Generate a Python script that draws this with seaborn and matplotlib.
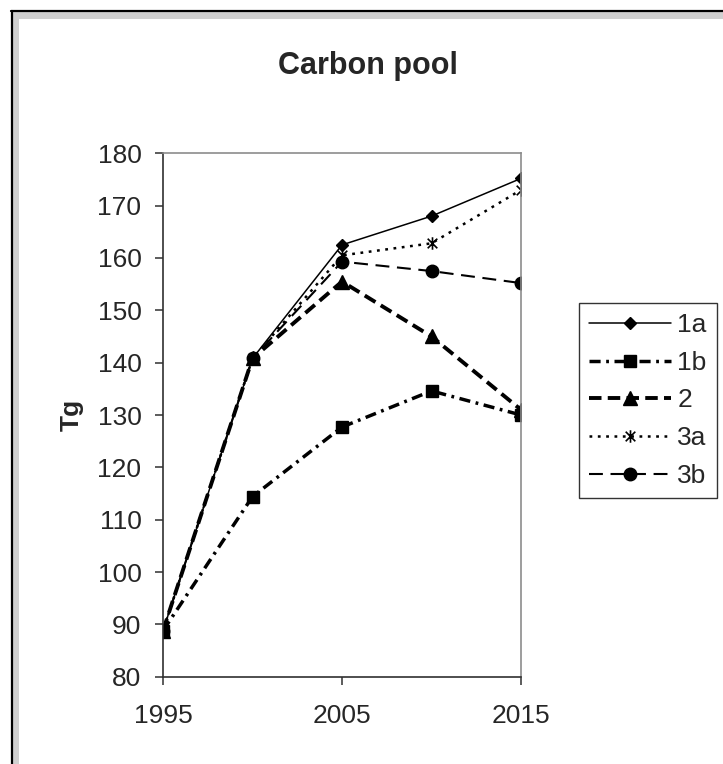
import numpy as np
import seaborn as sns
import matplotlib.pyplot as plt
from matplotlib.patches import Rectangle
from matplotlib.lines import Line2D
from matplotlib.path import Path

# data
years = [1995, 2000, 2005, 2010, 2015]
s1a = [88.8, 140.8, 162.5, 168.0, 175.2]
s1b = [88.8, 114.4, 127.7, 134.6, 130.0]
s2 = [88.8, 140.8, 155.5, 145.0, 131.0]
s3a = [88.8, 140.8, 160.5, 162.8, 173.0]
s3b = [88.8, 140.8, 159.3, 157.5, 155.2]
labels = ["1a", "1b", "2", "3a", "3b"]

sns.set_style("white")
plt.rcParams['font.family'] = ['Liberation Sans', 'DejaVu Sans']
plt.rcParams['lines.scale_dashes'] = False

W, H = 723, 764
fig = plt.figure(figsize=(W / 100, H / 100), dpi=100)

def fx(px):
    return px / W

def fy(py):
    return 1 - py / H

# outer chart border (black line + grey band)
fig.add_artist(Rectangle((fx(13), -0.1), 1.2, fy(12) + 0.1, transform=fig.transFigure,
                         facecolor='#d0d0d0', edgecolor='none', zorder=-5))
fig.add_artist(Rectangle((fx(19), -0.1), 1.2, fy(19) + 0.1, transform=fig.transFigure,
                         facecolor='white', edgecolor='none', zorder=-4))
fig.add_artist(Line2D([fx(12), fx(12)], [-0.1, fy(11)], transform=fig.transFigure,
                      color='black', lw=1.6, zorder=-3))
fig.add_artist(Line2D([fx(11.2), 1.1], [fy(11), fy(11)], transform=fig.transFigure,
                      color='black', lw=1.6, zorder=-3))

ax = fig.add_axes([fx(163), fy(676.7), fx(521) - fx(163), fy(153.3) - fy(676.7)])

star = Path([(-1, -1), (1, 1), (-1, 1), (1, -1), (0, -1.3), (0, 1.3)],
            [Path.MOVETO, Path.LINETO, Path.MOVETO, Path.LINETO, Path.MOVETO, Path.LINETO])

series = [s1a, s1b, s2, s3a, s3b]
styles = [
    dict(marker='D', markersize=6.5, linewidth=1.1, linestyle='-'),
    dict(marker='s', markersize=8.5, linewidth=2.5, linestyle=(0, (8, 4, 2, 4))),
    dict(marker='^', markersize=9.5, linewidth=2.8, linestyle=(0, (9, 4.5))),
    dict(marker=star, markersize=9, markeredgewidth=1.2, linewidth=1.8, linestyle=(0, (2, 4))),
    dict(marker='o', markersize=9, linewidth=1.5, linestyle=(0, (10, 5.5))),
]

for vals, lab, st in zip(series, labels, styles):
    kw = dict(st)
    kw.setdefault('markeredgewidth', 1)
    sns.lineplot(x=years, y=vals, ax=ax, color='black', markeredgecolor='black',
                 markerfacecolor='black', label=lab, errorbar=None, **kw)

ax.set_xlim(1995, 2015)
ax.set_ylim(80, 180)
ax.set_xticks([1995, 2005, 2015])
ax.set_yticks(np.arange(80, 181, 10))
ax.set_xlabel("")
ax.set_ylabel("")

for side in ['top', 'right']:
    ax.spines[side].set_color('#8c8c8c')
    ax.spines[side].set_linewidth(1.2)
for side in ['left', 'bottom']:
    ax.spines[side].set_color('#303030')
    ax.spines[side].set_linewidth(1.2)

ax.tick_params(axis='both', direction='out', length=5.5, width=1.1, color='#303030',
               labelsize=19, bottom=True, left=True)
ax.tick_params(axis='x', pad=14)
ax.tick_params(axis='y', pad=10)

fig.text(fx(368), fy(74.3), "Carbon pool", ha='center', va='baseline',
         fontsize=22, fontweight='bold')
fig.text(fx(72), fy(415), "Tg", ha='center', va='center', rotation=90,
         fontsize=19, fontweight='bold')

leg = ax.legend(loc='upper left', bbox_to_anchor=(fx(579), fy(303)),
                bbox_transform=fig.transFigure, borderaxespad=0, fontsize=19,
                frameon=True, fancybox=False, handlelength=3.1, handletextpad=0.25,
                borderpad=0.38, labelspacing=0.52, numpoints=1)
leg.get_frame().set_edgecolor('black')
leg.get_frame().set_linewidth(1.0)

fig.savefig("out.png", dpi=100)
